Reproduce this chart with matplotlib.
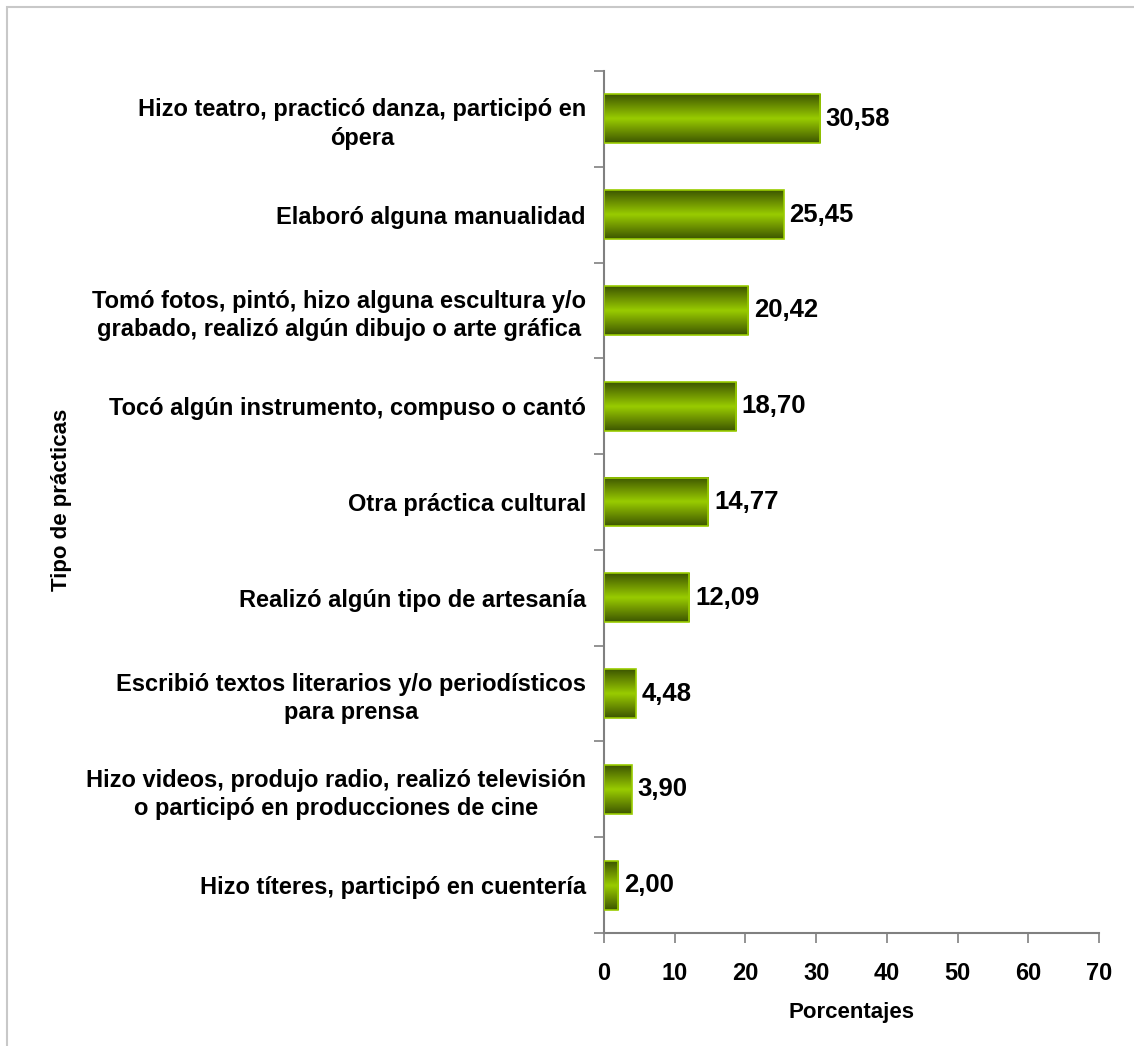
import numpy as np
import matplotlib.pyplot as plt
from matplotlib.patches import Rectangle
from matplotlib.colors import LinearSegmentedColormap

plt.rcParams['font.family'] = ['Liberation Sans', 'DejaVu Sans']
plt.rcParams['font.weight'] = 'bold'

categorias = [
    "Hizo teatro, practicó danza, participó en\nópera",
    "Elaboró alguna manualidad",
    "Tomó fotos, pintó, hizo alguna escultura y/o\ngrabado, realizó algún dibujo o arte gráfica",
    "Tocó algún instrumento, compuso o cantó",
    "Otra práctica cultural",
    "Realizó algún tipo de artesanía",
    "Escribió textos literarios y/o periodísticos\npara prensa",
    "Hizo videos, produjo radio, realizó televisión\no participó en producciones de cine",
    "Hizo títeres, participó en cuentería",
]
porcentajes = [30.58, 25.45, 20.42, 18.70, 14.77, 12.09, 4.48, 3.90, 2.00]
etiquetas = ["30,58", "25,45", "20,42", "18,70", "14,77", "12,09", "4,48", "3,90", "2,00"]
xticks = [0, 10, 20, 30, 40, 50, 60, 70]

W, H = 1134, 1046
fig = plt.figure(figsize=(W / 100, H / 100), dpi=100)

# light grey frame around the chart area
fig.patches.append(Rectangle((7 / W, -0.1), 1.2, 1 - 7 / H + 0.1,
                             transform=fig.transFigure, fill=False,
                             edgecolor='#c8c8c8', linewidth=1.5))

ax = fig.add_axes([604 / W, 1 - 933 / H, (1099 - 604) / W, (933 - 71) / H])

n = len(categorias)
pos = np.arange(n)[::-1]  # first category at the top
ax.set_xlim(0, 70)
ax.set_ylim(-0.5, n - 0.5)

cmap = LinearSegmentedColormap.from_list(
    'verde', ['#3c5600', '#6c9000', '#99cc00', '#6c9000', '#3c5600'])
grad = np.linspace(0, 1, 256).reshape(-1, 1)
alto = 0.51
for y, v, t in zip(pos, porcentajes, etiquetas):
    ax.imshow(grad, cmap=cmap, aspect='auto', interpolation='bicubic',
              extent=(0, v, y - alto / 2, y + alto / 2), zorder=2)
    ax.add_patch(Rectangle((0, y - alto / 2), v, alto, fill=False,
                           edgecolor='#99cc00', linewidth=1.2, zorder=3))
    ax.annotate(t, (v, y), xytext=(4, 0), textcoords='offset points',
                ha='left', va='center', fontsize=18.5, fontweight='bold',
                color='black', zorder=4)

# category boundaries carry the tick marks, centres carry the labels
ax.set_yticks(np.arange(-0.5, n, 1.0))
ax.set_yticklabels([])
ax.set_yticks(pos, minor=True)
ax.set_yticklabels(categorias, minor=True, fontsize=17, fontweight='bold')
for lab in ax.get_yticklabels(minor=True):
    lab.set_multialignment('center')
    lab.set_linespacing(1.3)
ax.tick_params(axis='y', which='major', direction='out', length=7,
               width=1.2, color='#808080')
ax.tick_params(axis='y', which='minor', length=0, pad=13)

ax.set_xticks(xticks)
ax.set_xticklabels([str(x) for x in xticks], fontsize=17, fontweight='bold')
ax.tick_params(axis='x', direction='out', length=7, width=1.2,
               color='#808080', pad=14)

for s in ['top', 'right']:
    ax.spines[s].set_visible(False)
for s in ['left', 'bottom']:
    ax.spines[s].set_color('#808080')
    ax.spines[s].set_linewidth(1.5)

ax.set_xlabel('Porcentajes', fontsize=16, fontweight='bold', labelpad=12)
fig.text(62 / W, 1 - 500 / H, 'Tipo de prácticas', rotation=90,
         ha='center', va='center', fontsize=16, fontweight='bold')

fig.savefig('out.png', dpi=100)
